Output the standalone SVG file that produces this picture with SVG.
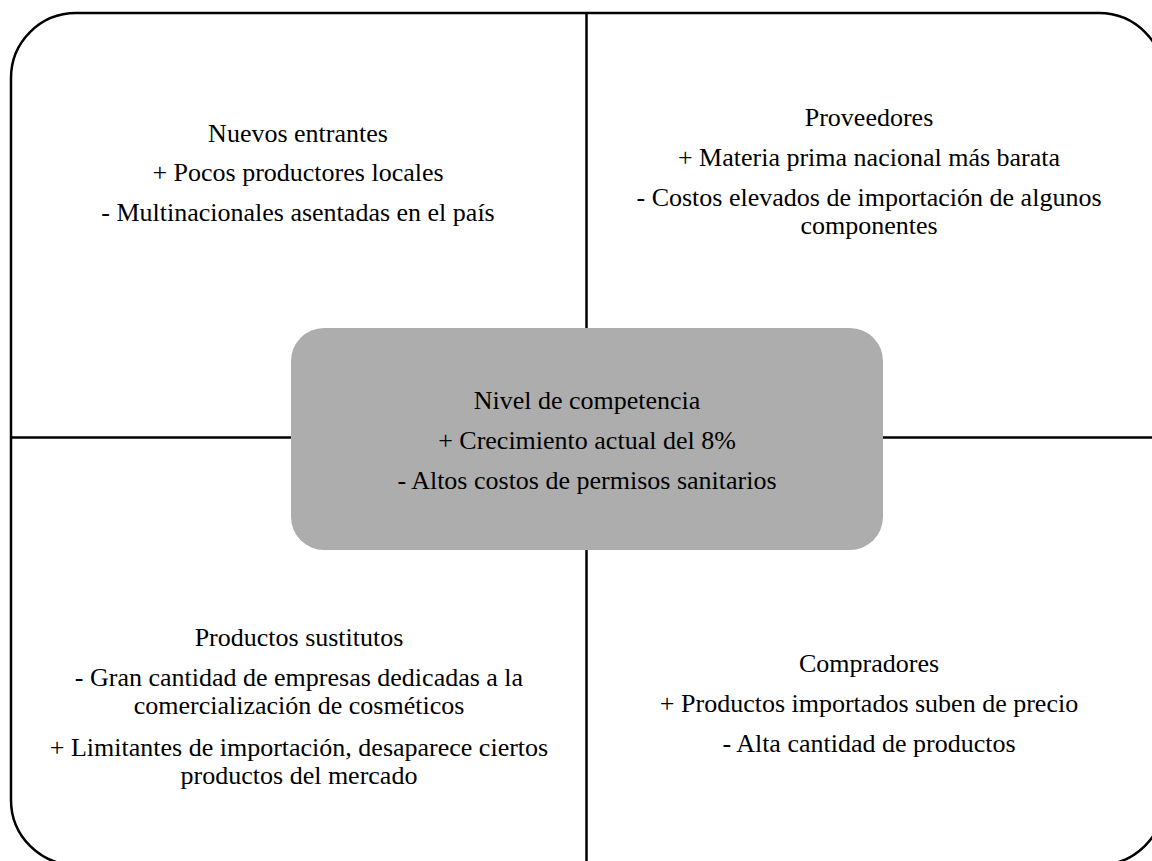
<svg xmlns="http://www.w3.org/2000/svg" width="1152" height="861" viewBox="0 0 1152 861">
  <style>
    .frame { fill: #ffffff; stroke: #000000; stroke-width: 2.5; }
    .divider { stroke: #000000; stroke-width: 2.5; fill: none; }
    .core { fill: #adadad; stroke: none; }
    .label { font-family: "Liberation Serif", "Times New Roman", serif; font-size: 26px; fill: #000000; text-anchor: middle; }
  </style>
  <rect width="1152" height="861" fill="#ffffff"/>

  <!-- outer frame -->
  <rect id="frame" class="frame" x="11" y="13" width="1153" height="852" rx="65" ry="65"/>

  <!-- quadrant dividers -->
  <g id="connectors">
    <line class="divider" x1="586.5" y1="13" x2="586.5" y2="861"/>
    <line class="divider" x1="11" y1="437.5" x2="1164" y2="437.5"/>
  </g>

  <g id="nuevos-entrantes">
    <text class="label" x="298" y="142">Nuevos entrantes</text>
    <text class="label" x="298" y="181">+ Pocos productores locales</text>
    <text class="label" x="298" y="221">- Multinacionales asentadas en el país</text>
  </g>

  <g id="proveedores">
    <text class="label" x="869" y="126">Proveedores</text>
    <text class="label" x="869" y="166">+ Materia prima nacional más barata</text>
    <text class="label" x="869" y="206">- Costos elevados de importación de algunos</text>
    <text class="label" x="869" y="234">componentes</text>
  </g>

  <g id="productos-sustitutos">
    <text class="label" x="299" y="646">Productos sustitutos</text>
    <text class="label" x="299" y="686">- Gran cantidad de empresas dedicadas a la</text>
    <text class="label" x="299" y="714">comercialización de cosméticos</text>
    <text class="label" x="299" y="756">+ Limitantes de importación, desaparece ciertos</text>
    <text class="label" x="299" y="784">productos del mercado</text>
  </g>

  <g id="compradores">
    <text class="label" x="869" y="672">Compradores</text>
    <text class="label" x="869" y="712">+ Productos importados suben de precio</text>
    <text class="label" x="869" y="752">- Alta cantidad de productos</text>
  </g>

  <g id="nivel-de-competencia">
    <rect class="core" x="291" y="328" width="592" height="222" rx="33" ry="33"/>
    <text class="label" x="587" y="409">Nivel de competencia</text>
    <text class="label" x="587" y="449">+ Crecimiento actual del 8%</text>
    <text class="label" x="587" y="489">- Altos costos de permisos sanitarios</text>
  </g>
</svg>
